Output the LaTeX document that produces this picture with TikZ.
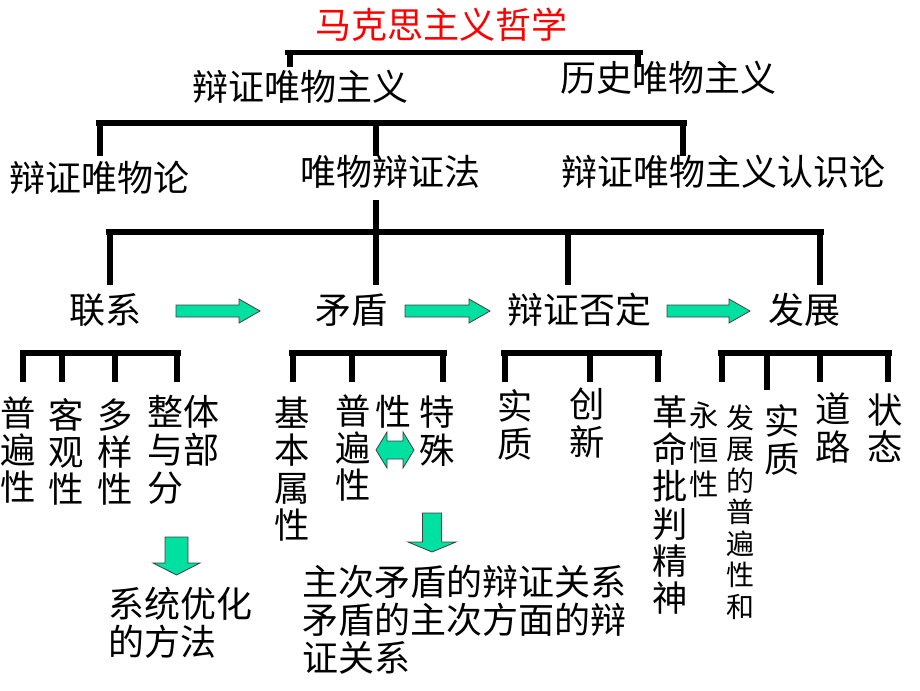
\documentclass[tikz,border=0pt]{standalone}
\usepackage{fontspec}
\newfontfamily\cjk{Noto Sans CJK SC}
\definecolor{arrowgreen}{RGB}{0,224,160}
\definecolor{titlered}{RGB}{255,0,0}
\newcommand\rblock[3]{%
  \filldraw[blockarrow] ({#1},{#3-6}) -- ({#2-21},{#3-6}) -- ({#2-21},{#3-12}) -- ({#2},{#3})
    -- ({#2-21},{#3+12}) -- ({#2-21},{#3+6}) -- ({#1},{#3+6}) -- cycle;}
\newcommand\dblock[6]{% xcenter, ytop, yheadbase, ytip, shaft half, head half
  \filldraw[blockarrow] ({#1-#5},{#2}) -- ({#1+#5},{#2}) -- ({#1+#5},{#3}) -- ({#1+#6},{#3})
    -- ({#1},{#4}) -- ({#1-#6},{#3}) -- ({#1-#5},{#3}) -- cycle;}
\begin{document}
\begin{tikzpicture}[x=0.75pt,y=-0.75pt,
  bar/.style={line width=3.8pt},
  drop/.style={line width=5pt},
  lab/.style={inner sep=0pt, font=\cjk\fontsize{27}{30}\selectfont},
  col/.style={inner sep=0pt, align=center, font=\cjk\fontsize{26.5}{28}\selectfont},
  colsm/.style={inner sep=0pt, align=center, font=\cjk\fontsize{22}{26}\selectfont},
  colxs/.style={inner sep=0pt, align=center, font=\cjk\fontsize{21}{23.6}\selectfont},
  para/.style={inner sep=0pt, align=left, font=\cjk\fontsize{27}{28.5}\selectfont},
  blockarrow/.style={fill=arrowgreen, draw=black!75, line width=0.6pt}]
\useasboundingbox (0,0) rectangle (920,690);

% ---------- texts ----------
\node[lab, text=titlered] (title) at (441,25) {马克思主义哲学};
\node[lab] (bzwwzy) at (300,87) {辩证唯物主义};
\node[lab] (lswwzy) at (668,78) {历史唯物主义};
\node[lab] (bzwwl) at (99,178) {辩证唯物论};
\node[lab] (wwbzf) at (390,172) {唯物辩证法};
\node[lab] (rsl) at (723,172) {辩证唯物主义认识论};
\node[lab] (lianxi) at (105,310) {联系};
\node[lab] (maodun) at (351,310) {矛盾};
\node[lab] (fouding) at (579,310) {辩证否定};
\node[lab] (fazhan) at (804,310) {发展};

% group 1
\node[col] (pbx1) at (18,450) {普\\遍\\性};
\node[col] (kgx) at (66,452) {客\\观\\性};
\node[col] (dyx) at (115,452) {多\\样\\性};
\node[para] (ztbf) at (183,450) {整体\\与部\\分};
\node[para] (xtyh) at (180,623) {系统优化\\的方法};
% group 2
\node[col] (jbsx) at (292,469) {基\\本\\属\\性};
\node[col] (pbx2) at (353,448) {普\\遍\\性};
\node[lab] (xing) at (393,412) {性};
\node[col] (tsh) at (437,431) {特\\殊};
\node[para, anchor=west] (zcmd) at (302,620) {主次矛盾的辩证关系\\矛盾的主次方面的辩\\证关系};
% group 3
\node[col] (shizhi1) at (515,425) {实\\质};
\node[col] (chuangxin) at (587,423) {创\\新};
\node[col] (gmpp) at (670,505) {革\\命\\批\\判\\精\\神};
% group 4
\node[colsm] (yhx) at (704,450) {永\\恒\\性};
\node[colxs] (fzpb) at (740,512) {发\\展\\的\\普\\遍\\性\\和};
\node[col] (shizhi2) at (782,440) {实\\质};
\node[col] (daolu) at (833,428) {道\\路};
\node[col] (zhuangtai) at (885,428) {状\\态};

% ---------- brackets ----------
% level 1
\draw[bar] (285,52.5) -- (643,52.5);
\draw[drop] (290,52) -- (290,67);
\draw[drop] (638,52) -- (638,67);
% level 2
\draw[bar] (96,123) -- (687,123);
\draw[bar] (100,121) -- (100,156);
\draw[bar] (376,121) -- (376,156);
\draw[bar] (683,121) -- (683,156);
% level 3
\draw[bar] (376,200) -- (376,232);
\draw[bar] (106,232) -- (824,232);
\draw[bar] (110,230) -- (110,285);
\draw[bar] (376,230) -- (376,285);
\draw[bar] (568,230) -- (568,285);
\draw[bar] (820,230) -- (820,285);
% level 4 groups
\draw[bar] (20,353) -- (181,353);
\foreach \x in {23,62,115,177} \draw[drop] (\x,351) -- (\x,382);
\draw[bar] (289,353) -- (447,353);
\foreach \x in {293,352,443} \draw[drop] (\x,351) -- (\x,382);
\draw[bar] (501,353) -- (662,353);
\foreach \x in {505,590,658} \draw[drop] (\x,351) -- (\x,382);
\draw[bar] (718,353) -- (892,353);
\foreach \x in {722,820,888} \draw[drop] (\x,351) -- (\x,382);
\draw[drop] (767,351) -- (767,390);

% ---------- green block arrows ----------
\rblock{176}{260}{311}
\rblock{405}{490}{311}
\rblock{667}{750}{311}
\dblock{176.5}{537}{563}{575}{11.5}{23.5}
\dblock{432}{513}{542}{552}{9.5}{24}
% double arrow
\filldraw[blockarrow] (376,450) -- (387,432) -- (387,441) -- (403,441) -- (403,432) -- (414,450)
  -- (403,468) -- (403,459) -- (387,459) -- (387,468) -- cycle;
\end{tikzpicture}
\end{document}
